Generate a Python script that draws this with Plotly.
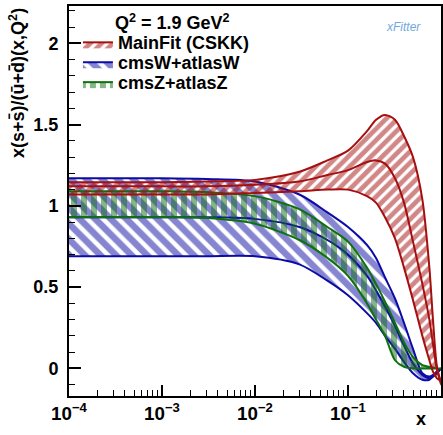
import plotly.graph_objects as go

# ---------------- data ----------------
x_vals = [1e-4, 1e-3, 3e-3, 0.01, 0.03, 0.06, 0.1, 0.16, 0.2, 0.25, 0.32,
          0.4, 0.5, 0.63, 0.75, 0.82, 0.9, 1.0]

main_up = [1.145, 1.145, 1.15, 1.16, 1.21, 1.28, 1.34, 1.46, 1.53, 1.56, 1.53,
           1.43, 1.30, 1.04, 0.62, 0.30, 0.02, -0.10]
main_mid = [1.12, 1.12, 1.12, 1.13, 1.15, 1.19, 1.22, 1.27, 1.28, 1.26, 1.17,
            1.02, 0.78, 0.52, 0.30, 0.15, 0.00, -0.08]
main_lo = [1.07, 1.07, 1.07, 1.08, 1.09, 1.10, 1.10, 1.06, 1.02, 0.93, 0.80,
           0.62, 0.42, 0.20, 0.05, -0.02, -0.06, -0.08]

w_up = [1.17, 1.17, 1.165, 1.15, 1.07, 0.96, 0.87, 0.76, 0.68, 0.56, 0.43,
        0.28, 0.12, -0.03, -0.05, -0.04, -0.02, 0.0]
w_mid = [0.93, 0.93, 0.93, 0.92, 0.87, 0.79, 0.70, 0.57, 0.48, 0.38, 0.26,
         0.14, 0.03, -0.04, -0.06, -0.05, -0.03, 0.0]
w_lo = [0.69, 0.69, 0.69, 0.69, 0.64, 0.54, 0.45, 0.34, 0.28, 0.20, 0.12,
        0.04, -0.03, -0.07, -0.07, -0.05, -0.03, 0.0]

z_up = [1.09, 1.09, 1.085, 1.06, 0.98, 0.87, 0.78, 0.62, 0.52, 0.41, 0.28,
        0.16, 0.07, 0.02, 0.01, 0.005, 0.0, 0.0]
z_lo = [0.93, 0.93, 0.925, 0.89, 0.79, 0.68, 0.57, 0.40, 0.30, 0.20, 0.05,
        0.01, 0.0, 0.0, 0.0, 0.0, 0.0, 0.0]

names = ["MainFit (CSKK)", "cmsW+atlasW", "cmsZ+atlasZ"]
colors = ["#a50f0f", "#0c0ca5", "#0f700f"]
hatches = ["/", "\\", "|"]
hatch_sizes = [8, 11, 10]

legend_title = "Q<sup>2</sup> = 1.9 GeV<sup>2</sup>"
y_title = "x(s+s\u0304)/(u\u0304+d\u0304)(x,Q<sup>2</sup>)"
x_title = "x"

# ---------------- figure ----------------
fig = go.Figure()

bands = [
    (1, w_up, w_lo, [w_mid]),
    (2, z_up, z_lo, []),
    (0, main_up, main_lo, [main_mid]),
]

for idx, up, lo, extra in bands:
    col = colors[idx]
    fig.add_trace(go.Scatter(
        x=x_vals + x_vals[::-1], y=up + lo[::-1],
        mode="lines", fill="toself",
        fillcolor="rgba(0,0,0,0)",
        fillpattern=dict(shape=hatches[idx], fgcolor=col,
                         bgcolor="rgba(0,0,0,0)",
                         size=hatch_sizes[idx], solidity=0.6),
        line=dict(color=col, width=2, shape="spline", smoothing=0.8),
        name='<span style="font-size:18px">' + names[idx] + "</span>",
        legendrank=idx + 1, showlegend=True,
    ))
    for ln in extra:
        fig.add_trace(go.Scatter(
            x=x_vals, y=ln, mode="lines",
            line=dict(color=col, width=2, shape="spline", smoothing=0.8),
            showlegend=False, hoverinfo="skip",
        ))

fig.update_layout(
    width=443, height=435,
    margin=dict(l=69, r=2, t=6, b=39, autoexpand=False),
    paper_bgcolor="white", plot_bgcolor="white",
    font=dict(family="Liberation Sans, Arial, sans-serif", color="black", size=16),
    legend=dict(
        x=0.024, y=1.0, xanchor="left", yanchor="top",
        bgcolor="rgba(0,0,0,0)",
        font=dict(size=13, weight="bold", color="black"),
        title=dict(text="\u00a0" * 7 + legend_title,
                   font=dict(size=18, weight="bold"), side="top"),
        itemwidth=30, tracegroupgap=0,
    ),
    showlegend=True,
)

fig.update_xaxes(
    type="log", range=[-4, 0],
    tickmode="linear", tick0=0, dtick=1,
    exponentformat="power", showexponent="all",
    ticks="inside", ticklen=11, tickwidth=1.5, tickcolor="black",
    minor=dict(ticks="inside", ticklen=6, tickwidth=1, tickcolor="black",
               dtick="D1", showgrid=False),
    showline=True, linecolor="black", linewidth=2, mirror=True,
    showgrid=False, zeroline=False,
    tickfont=dict(size=15, weight="bold"),
)
fig.update_yaxes(
    range=[-0.17, 2.23],
    tickmode="linear", tick0=0, dtick=0.5,
    ticks="inside", ticklen=12, tickwidth=1.5, tickcolor="black",
    minor=dict(ticks="inside", ticklen=6, tickwidth=1, tickcolor="black",
               dtick=0.1, showgrid=False),
    showline=True, linecolor="black", linewidth=2, mirror=True,
    showgrid=False, zeroline=False,
    ticklabelstandoff=5,
    tickfont=dict(size=18, weight="bold"),
)

fig.add_annotation(
    text=y_title,
    xref="paper", yref="paper", x=-0.14, y=1.0,
    xanchor="center", yanchor="top", textangle=-90, showarrow=False,
    font=dict(size=18, weight="bold"),
)
fig.add_annotation(
    text=x_title, xref="paper", yref="paper", x=0.946, y=-0.09,
    xanchor="center", yanchor="bottom", showarrow=False,
    font=dict(size=18, weight="bold"),
)
fig.add_annotation(
    text="<i>xFitter</i>", xref="paper", yref="paper", x=0.9, y=0.945,
    xanchor="center", yanchor="middle", showarrow=False,
    font=dict(size=12, color="#6fa8dc"),
)

fig.write_html("out.html",
               config={"displayModeBar": False},
               post_script="document.body.style.margin='0';")
